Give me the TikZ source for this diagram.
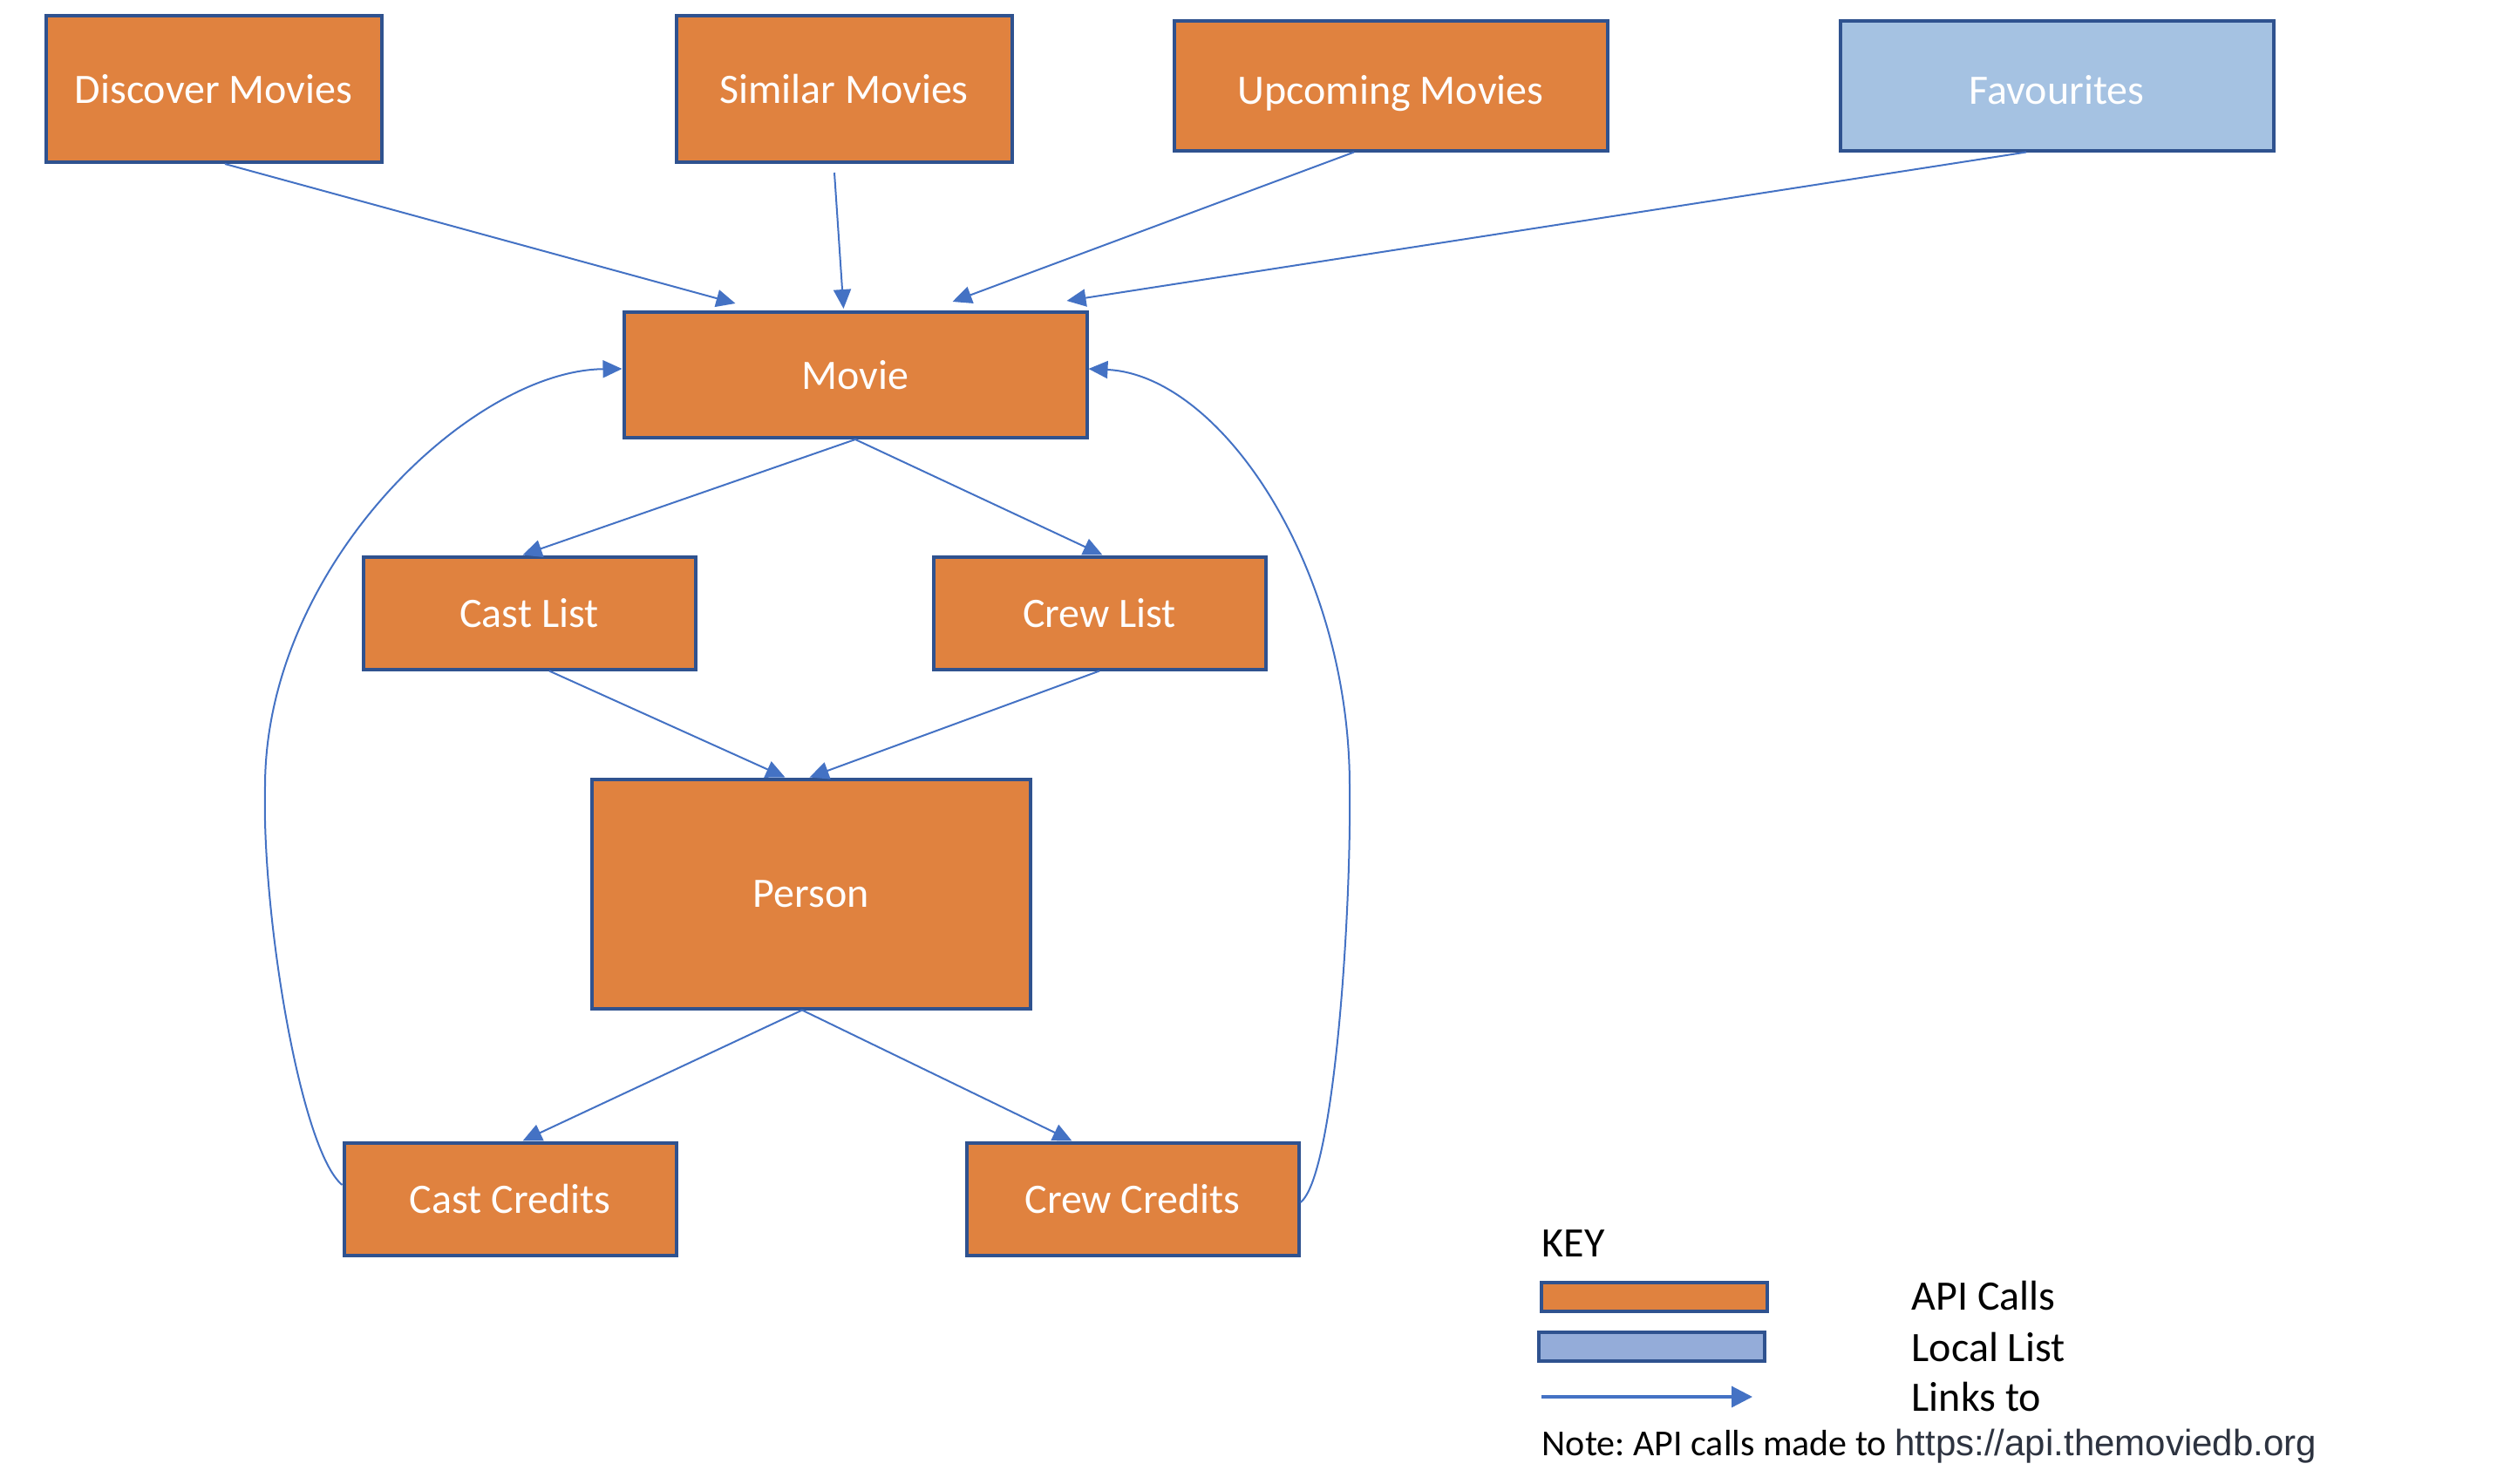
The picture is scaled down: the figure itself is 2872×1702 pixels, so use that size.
\documentclass[tikz,border=0pt]{standalone}
\usepackage{fontspec}
\setmainfont{Carlito}
\newfontfamily\urlfont{Liberation Sans}
\usetikzlibrary{arrows.meta,calc}
\definecolor{orng}{HTML}{E0823F}
\definecolor{bord}{HTML}{2F528F}
\definecolor{favb}{HTML}{A5C2E2}
\definecolor{keyb}{HTML}{94ACD9}
\definecolor{arr}{HTML}{4472C4}
\definecolor{urlc}{HTML}{2D3340}
\frenchspacing
\newcommand{\lowertext}[1]{\raisebox{-1.3pt}[\height][\depth]{#1}}
\begin{document}
\begin{tikzpicture}[x=0.25pt,y=-0.25pt,
  box/.style={draw=bord,line width=1pt,fill=orng,text=white,
    font=\fontsize{12}{14}\selectfont,inner sep=0pt,rectangle},
  topbox/.style={box,minimum width=96.25pt,minimum height=42pt},
  widebox/.style={box,minimum width=124.25pt,minimum height=37.25pt},
  midbox/.style={box,minimum width=95.25pt,minimum height=32.25pt},
  keybox/.style={draw=bord,line width=1pt,minimum width=64.75pt,minimum height=8.25pt,inner sep=0pt},
  link/.style={draw=arr,line width=0.5pt,-{Triangle[length=5.5pt,width=5pt]}},
  lbl/.style={anchor=west,inner sep=0pt,font=\fontsize{12}{14}\selectfont,text=black}]
\useasboundingbox (0,0) rectangle (2872,1702);

% boxes
\node[topbox] (disc) at (245,102) {Discover Movies};
\node[topbox] (sim) at (968,102) {Similar Movies};
\node[widebox,text depth=0pt] (up) at (1595,98) {\lowertext{Upcoming Movies}};
\node[widebox,fill=favb] (fav) at (2359,98) {\lowertext{Favourites}};
\node[box,minimum width=132.75pt,minimum height=36pt] (movie) at (981,430) {Movie};
\node[midbox] (castl) at (607,703) {Cast List};
\node[midbox] (crewl) at (1261,703) {Crew List};
\node[box,minimum width=125.75pt,minimum height=65.75pt] (person) at (930,1025) {Person};
\node[midbox] (castc) at (585,1375) {Cast Credits};
\node[midbox] (crewc) at (1299,1375) {Crew Credits};

% links into Movie
\draw[link] ($(disc.south)+(13,0)$) -- ($(movie.north west)+(130,-8)$);
\draw[link] ($(sim.south)+(-11,10)$) -- ($(movie.north west)+(254,-2)$);
\draw[link] ($(up.south)+(-42,0)$) -- ($(movie.north west)+(379,-10)$);
\draw[link] ($(fav.south)+(-35,0)$) -- ($(movie.north west)+(510,-11)$);

% Movie to lists
\draw[link] (movie.south) -- ($(castl.north west)+(185,0)$);
\draw[link] (movie.south) -- ($(crewl.north west)+(196,0)$);

% lists to Person
\draw[link] ($(castl.south)+(23,0)$) -- ($(person.north west)+(224,0)$);
\draw[link] (crewl.south) -- ($(person.north west)+(252,0)$);

% Person to credits
\draw[link] ($(person.south)+(-10,0)$) -- ($(castc.north west)+(207,0)$);
\draw[link] ($(person.south)+(-10,0)$) -- ($(crewc.north west)+(123,0)$);

% credits back to Movie
\draw[link] ($(castc.west)+(0,-16)$) .. controls (345,1320) and (300,1050) .. (304,902)
  .. controls (304,650) and (540,425) .. ($(movie.west)+(0,-7)$);
\draw[link] ($(crewc.east)+(0,4)$) .. controls (1530,1350) and (1550,1050) .. (1548,902)
  .. controls (1548,650) and (1400,430) .. ($(movie.east)+(0,-7)$);

% key
\node[lbl] (key) at (1768,1426) {KEY};
\node[keybox,fill=orng] (kapi) at (1897,1487) {};
\node[keybox,fill=keyb] (kloc) at (1894,1544) {};
\coordinate (karrs) at (1768,1602);
\coordinate (karre) at (2010,1602);
\draw[link,line width=0.8pt,-{Triangle[length=6pt,width=6pt]}] (karrs) -- (karre);
\node[lbl] (tapi) at (2192,1486) {API Calls};
\node[lbl] (tloc) at (2192,1545) {Local List};
\node[lbl] (tlnk) at (2192,1602) {Links to};
\node[anchor=west,inner sep=0pt,font=\fontsize{10.5}{12}\selectfont] (note) at (1768,1659)
  {Note: API calls made to {\urlfont\color{urlc}https://api.themoviedb.org}};
\end{tikzpicture}
\end{document}
